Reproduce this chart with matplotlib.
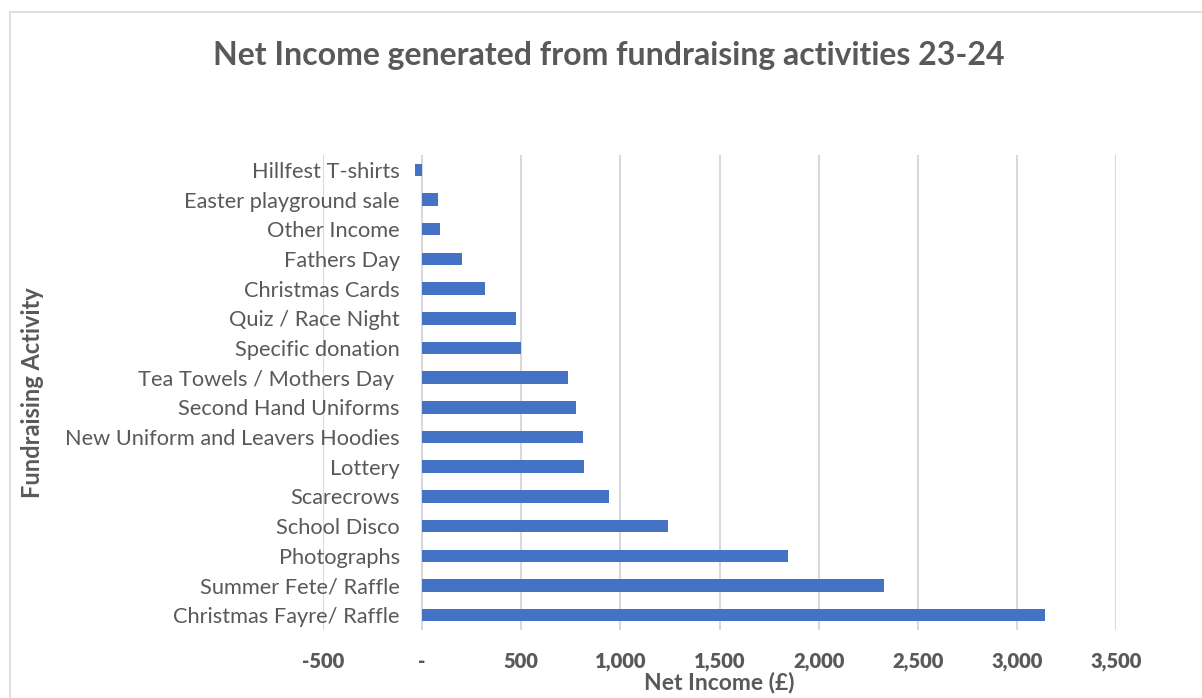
import matplotlib
matplotlib.use("Agg")
import matplotlib.pyplot as plt
from matplotlib.patches import Rectangle

plt.rcParams['font.family'] = ['Lato', 'DejaVu Sans']

activities = ['Christmas Fayre/ Raffle', 'Summer Fete/ Raffle', 'Photographs', 'School Disco',
              'Scarecrows', 'Lottery', 'New Uniform and Leavers Hoodies', 'Second Hand Uniforms',
              'Tea Towels / Mothers Day ', 'Specific donation', 'Quiz / Race Night',
              'Christmas Cards', 'Fathers Day', 'Other Income', 'Easter playground sale',
              'Hillfest T-shirts']
net_income = [3140, 2331, 1847, 1241, 943, 815, 813, 774, 737, 500, 474, 317, 202, 90, 82, -36]
x_ticks = [-500, 0, 500, 1000, 1500, 2000, 2500, 3000, 3500]
x_tick_labels = ['-' if v == 0 else f'{v:,}' for v in x_ticks]

grey = '#595959'
W, H = 1202, 698
fig = plt.figure(figsize=(W / 100, H / 100), dpi=100)
ax = fig.add_axes([323 / W, 1 - 630 / H, (1116 - 323) / W, (630 - 155) / H])

ax.barh(range(len(activities)), net_income, height=0.42, color='#4472C4', zorder=3)
ax.set_xlim(-500, 3500)
ax.set_ylim(-0.5, len(activities) - 0.5)
ax.set_xticks(x_ticks, x_tick_labels)
ax.grid(axis='x', color='#d9d9d9', linewidth=1.5, zorder=0)

ax.set_yticks(range(len(activities)), activities)
ax.spines['left'].set_position(('data', 0))
for s in ax.spines.values():
    s.set_visible(False)
ax.tick_params(axis='y', length=0, pad=16, labelsize=15.7, labelcolor=grey)
ax.tick_params(axis='x', length=0, pad=16, labelsize=14.5, labelcolor=grey)
plt.setp(ax.get_xticklabels(), fontweight='heavy')
for lbl in ax.get_yticklabels():
    lbl.set_zorder(5)

ax.set_xlabel('Net Income (£)', fontsize=16.5, fontweight='bold', color=grey, labelpad=0)
fig.text(33 / W, 1 - 393 / H, 'Fundraising Activity', rotation=90, fontsize=17,
         fontweight='bold', color=grey, ha='center', va='center')
fig.text(609 / W, 1 - 55 / H, 'Net Income generated from fundraising activities 23-24',
         fontsize=23, fontweight='bold', color=grey, ha='center', va='center')

fig.add_artist(Rectangle((10 / W, -0.1), 1.2, (H - 12) / H + 0.1, transform=fig.transFigure,
                         fill=False, edgecolor='#d9d9d9', linewidth=1.2))

fig.savefig('out.png', dpi=100, facecolor='white')
